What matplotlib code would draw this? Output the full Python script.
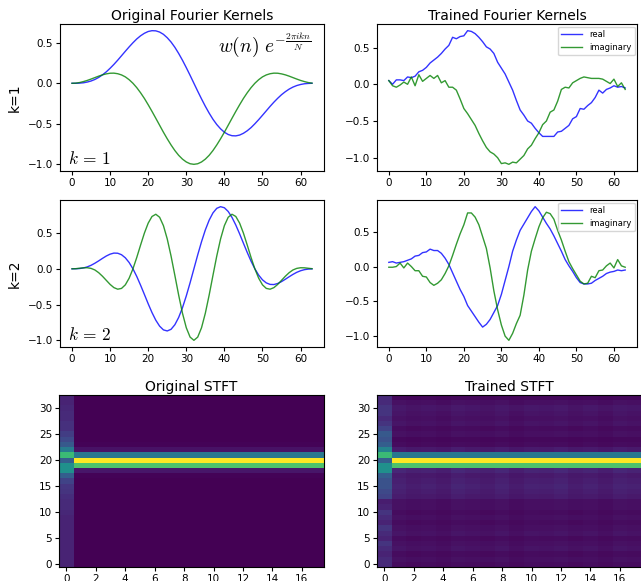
import numpy as np
import matplotlib.pyplot as plt
from matplotlib.ticker import MultipleLocator

plt.rcParams['mathtext.fontset'] = 'cm'

n_idx = np.arange(64)

# Original kernels, k=1
orig_real_k1 = [0.000, 0.000, 0.002, 0.006, 0.015, 0.028, 0.047, 0.072, 0.104, 0.141, 0.185, 0.233, 0.285, 0.340, 0.395, 0.449,
                0.500, 0.547, 0.586, 0.617, 0.639, 0.649, 0.647, 0.632, 0.604, 0.562, 0.509, 0.444, 0.368, 0.284, 0.193, 0.098,
                0.000, -0.098, -0.193, -0.284, -0.368, -0.444, -0.509, -0.562, -0.604, -0.632, -0.647, -0.649, -0.639, -0.617, -0.586, -0.547,
                -0.500, -0.449, -0.395, -0.340, -0.285, -0.233, -0.185, -0.141, -0.104, -0.072, -0.047, -0.028, -0.015, -0.006, -0.002, 0.000]
orig_imag_k1 = [0.000, 0.002, 0.009, 0.021, 0.035, 0.052, 0.070, 0.088, 0.104, 0.116, 0.124, 0.125, 0.118, 0.103, 0.079, 0.044,
                0.000, -0.054, -0.117, -0.187, -0.265, -0.347, -0.432, -0.518, -0.604, -0.685, -0.761, -0.830, -0.889, -0.936, -0.971, -0.993,
                -1.000, -0.993, -0.971, -0.936, -0.889, -0.830, -0.761, -0.685, -0.604, -0.518, -0.432, -0.347, -0.265, -0.187, -0.117, -0.054,
                0.000, 0.044, 0.079, 0.103, 0.118, 0.125, 0.124, 0.116, 0.104, 0.088, 0.070, 0.052, 0.035, 0.021, 0.009, 0.002]

# Original kernels, k=2
orig_real_k2 = [0.000, 0.001, 0.004, 0.012, 0.027, 0.049, 0.078, 0.111, 0.146, 0.179, 0.205, 0.220, 0.218, 0.197, 0.154, 0.088,
                0.000, -0.107, -0.229, -0.358, -0.489, -0.612, -0.719, -0.802, -0.854, -0.869, -0.846, -0.782, -0.680, -0.544, -0.379, -0.195,
                0.000, 0.195, 0.379, 0.544, 0.680, 0.782, 0.846, 0.869, 0.854, 0.802, 0.719, 0.612, 0.489, 0.358, 0.229, 0.107,
                0.000, -0.088, -0.154, -0.197, -0.218, -0.220, -0.205, -0.179, -0.146, -0.111, -0.078, -0.049, -0.027, -0.012, -0.004, -0.001]
orig_imag_k2 = [0.000, 0.002, 0.008, 0.014, 0.015, 0.006, -0.016, -0.054, -0.104, -0.161, -0.218, -0.263, -0.285, -0.274, -0.224, -0.131,
                0.000, 0.159, 0.332, 0.499, 0.639, 0.732, 0.763, 0.721, 0.604, 0.418, 0.179, -0.092, -0.368, -0.621, -0.824, -0.955,
                -1.000, -0.955, -0.824, -0.621, -0.368, -0.092, 0.179, 0.418, 0.604, 0.721, 0.763, 0.732, 0.639, 0.499, 0.332, 0.159,
                0.000, -0.131, -0.224, -0.274, -0.285, -0.263, -0.218, -0.161, -0.104, -0.054, -0.016, 0.006, 0.015, 0.014, 0.008, 0.002]

# Trained kernels, k=1
trained_real_k1 = [0.05, 0.00, 0.06, 0.06, 0.05, 0.10, 0.09, 0.11, 0.17, 0.19, 0.23, 0.29, 0.33, 0.37, 0.42, 0.48,
                   0.53, 0.64, 0.62, 0.65, 0.66, 0.73, 0.72, 0.69, 0.64, 0.58, 0.51, 0.48, 0.42, 0.30, 0.22, 0.14,
                   0.03, -0.08, -0.22, -0.35, -0.42, -0.50, -0.53, -0.60, -0.66, -0.71, -0.71, -0.71, -0.71, -0.65, -0.64, -0.60,
                   -0.56, -0.47, -0.44, -0.33, -0.34, -0.29, -0.25, -0.18, -0.08, -0.12, -0.07, -0.05, -0.02, -0.04, -0.03, -0.05]
trained_imag_k1 = [0.05, -0.02, -0.04, -0.01, 0.03, 0.00, 0.10, -0.02, 0.13, 0.04, 0.08, 0.12, 0.08, 0.12, 0.02, 0.05,
                   -0.04, -0.04, -0.08, -0.20, -0.33, -0.40, -0.48, -0.56, -0.67, -0.77, -0.86, -0.92, -0.95, -1.00, -1.08, -1.07,
                   -1.09, -1.06, -1.07, -1.02, -0.97, -0.88, -0.83, -0.74, -0.66, -0.55, -0.50, -0.38, -0.35, -0.23, -0.07, -0.04,
                   -0.05, 0.02, 0.05, 0.08, 0.10, 0.09, 0.08, 0.08, 0.08, 0.07, 0.04, 0.01, 0.07, -0.03, 0.02, -0.07]

# Trained kernels, k=2
trained_real_k2 = [0.06, 0.07, 0.05, 0.06, 0.07, 0.09, 0.11, 0.15, 0.16, 0.20, 0.21, 0.25, 0.23, 0.23, 0.19, 0.12,
                   0.03, -0.09, -0.21, -0.33, -0.43, -0.56, -0.64, -0.72, -0.80, -0.87, -0.83, -0.76, -0.66, -0.56, -0.40, -0.20,
                   0.00, 0.22, 0.38, 0.52, 0.61, 0.70, 0.79, 0.86, 0.80, 0.71, 0.62, 0.54, 0.44, 0.33, 0.22, 0.10,
                   0.01, -0.07, -0.16, -0.23, -0.25, -0.25, -0.24, -0.20, -0.17, -0.14, -0.10, -0.08, -0.07, -0.05, -0.06, -0.05]
trained_imag_k2 = [-0.01, -0.01, 0.00, 0.05, -0.02, 0.05, 0.00, -0.06, -0.06, -0.14, -0.15, -0.23, -0.27, -0.24, -0.19, -0.10,
                   0.01, 0.16, 0.32, 0.47, 0.60, 0.77, 0.77, 0.71, 0.60, 0.43, 0.26, -0.02, -0.35, -0.62, -0.84, -1.00,
                   -1.06, -0.96, -0.82, -0.70, -0.41, -0.05, 0.22, 0.40, 0.57, 0.70, 0.78, 0.76, 0.68, 0.52, 0.38, 0.22,
                   0.07, -0.03, -0.12, -0.21, -0.25, -0.24, -0.14, -0.16, -0.06, -0.05, 0.01, 0.05, -0.02, 0.10, 0.01, -0.01]

# STFT magnitude profiles (33 freq bins), first frame and remaining frames
n_frames = 18
orig_col0 = [0.10, 0.10, 0.10, 0.10, 0.10, 0.10, 0.10, 0.10, 0.10, 0.10, 0.11, 0.12, 0.12, 0.13, 0.15, 0.16,
             0.20, 0.30, 0.50, 0.50, 0.30, 0.68, 0.42, 0.28, 0.22, 0.18, 0.14, 0.14, 0.12, 0.12, 0.11, 0.10, 0.10]
orig_rest = [0.0, 0.0, 0.0, 0.0, 0.0, 0.0, 0.0, 0.0, 0.0, 0.0, 0.0, 0.0, 0.0, 0.0, 0.0, 0.0,
             0.0, 0.01, 0.06, 0.72, 1.0, 0.40, 0.05, 0.01, 0.0, 0.0, 0.0, 0.0, 0.0, 0.0, 0.0, 0.0, 0.0]

trained_col0 = [0.12, 0.12, 0.10, 0.12, 0.15, 0.10, 0.12, 0.15, 0.10, 0.12, 0.15, 0.10, 0.08, 0.20, 0.22, 0.25,
                0.25, 0.30, 0.50, 0.50, 0.30, 0.68, 0.45, 0.30, 0.25, 0.28, 0.20, 0.15, 0.12, 0.15, 0.15, 0.12, 0.12]
trained_rest = [0.03, 0.04, 0.03, 0.05, 0.04, 0.03, 0.05, 0.04, 0.03, 0.04, 0.03, 0.04, 0.04, 0.07, 0.08, 0.09,
                0.08, 0.07, 0.10, 0.72, 1.0, 0.40, 0.07, 0.03, 0.02, 0.04, 0.03, 0.05, 0.04, 0.05, 0.06, 0.04, 0.02]
trained_gain = [1.1, 0.9, 1.0, 0.85, 1.15, 1.0, 0.9, 1.1, 0.85, 1.05, 1.0, 1.15, 0.9, 1.05, 0.85, 1.1, 1.0]


def build_stft(col0, rest, gain=None):
    cols = [np.array(col0)]
    for j in range(n_frames - 1):
        c = np.array(rest, dtype=float)
        if gain is not None:
            small = c < 0.2
            c[small] = c[small] * gain[j]
        cols.append(c)
    return np.column_stack(cols)


W, H = 641, 581
fig = plt.figure(figsize=(W / 100, H / 100), dpi=100)


def px_axes(x0, y0, x1, y1):
    return fig.add_axes([x0 / W, 1 - y1 / H, (x1 - x0) / W, (y1 - y0) / H])


blue = (0, 0, 1, 0.8)
green = (0, 0.5, 0, 0.8)
tick_fs = 7.5

kernels = [
    (orig_real_k1, orig_imag_k1, trained_real_k1, trained_imag_k1, 24, 171, 'k=1', r'$k\,=\,1$'),
    (orig_real_k2, orig_imag_k2, trained_real_k2, trained_imag_k2, 200, 347, 'k=2', r'$k\,=\,2$'),
]

for row, (o_re, o_im, t_re, t_im, top, bot, ylab, ktxt) in enumerate(kernels):
    ax = px_axes(60, top, 324, bot)
    ax.plot(n_idx, o_re, color=blue, lw=1.0)
    ax.plot(n_idx, o_im, color=green, lw=1.0)
    ax.yaxis.set_major_locator(MultipleLocator(0.5))
    ax.tick_params(labelsize=tick_fs, length=3, pad=2)
    ax.set_ylabel(ylab, fontsize=10, labelpad=4)
    ax.text(0.03, 0.05, ktxt, transform=ax.transAxes, fontsize=12.5)
    if row == 0:
        ax.set_title('Original Fourier Kernels', fontsize=10, pad=3)
        ax.text(0.6, 0.86, r'$w(n)\ e^{-\frac{2\pi ikn}{N}}$', transform=ax.transAxes,
                fontsize=14, va='center')

    ax2 = px_axes(377, top, 637, bot)
    ax2.plot(n_idx, t_re, color=blue, lw=1.0, label='real')
    ax2.plot(n_idx, t_im, color=green, lw=1.0, label='imaginary')
    ax2.yaxis.set_major_locator(MultipleLocator(0.5))
    ax2.tick_params(labelsize=tick_fs, length=3, pad=2)
    ax2.legend(loc='upper right', fontsize=6, handlelength=2.5, borderaxespad=0.3)
    if row == 0:
        ax2.set_title('Trained Fourier Kernels', fontsize=10, pad=3)

orig_stft = build_stft(orig_col0, orig_rest)
trained_stft = build_stft(trained_col0, trained_rest, trained_gain)

for (x0, x1, img, title) in [(59, 324, orig_stft, 'Original STFT'),
                             (377, 642, trained_stft, 'Trained STFT')]:
    ax = px_axes(x0, 395, x1, 567)
    ax.imshow(img, origin='lower', aspect='auto', cmap='viridis', vmin=0, vmax=1)
    ax.set_title(title, fontsize=10, pad=3)
    ax.tick_params(labelsize=tick_fs, length=3, pad=2)
    ax.set_xticks(range(0, 17, 2))

fig.savefig('out.png', dpi=100)
